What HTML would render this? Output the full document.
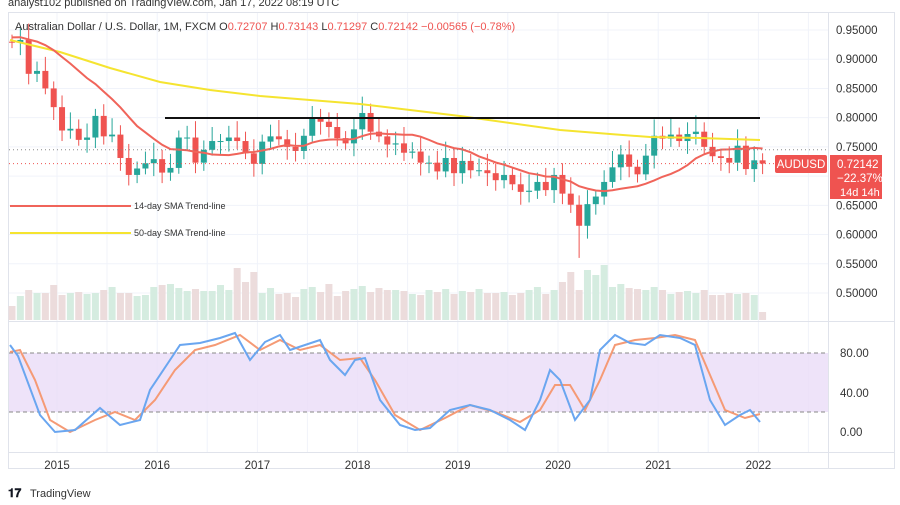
<!DOCTYPE html>
<html><head><meta charset="utf-8"><style>
body{margin:0;width:900px;height:500px;background:#fff;overflow:hidden;font-family:"Liberation Sans",sans-serif}
</style></head><body>
<svg id="s" width="900" height="500" xmlns="http://www.w3.org/2000/svg" font-family="Liberation Sans, sans-serif"></svg>
<script>
const s=document.getElementById('s');let h='';
const Y=p=>30+(0.95-p)*584.4;
h+='<text x="8" y="6" font-size="11" fill="#333">analyst102 published on TradingView.com, Jan 17, 2022 08:19 UTC</text>';
h+='<rect x="8.5" y="12.5" width="886" height="456" fill="#fff" stroke="#e0e3eb"/>';
for(let i=0;i<8;i++){let x=57+i*100.2;h+=`<line x1="${x}" y1="13" x2="${x}" y2="452" stroke="#f0f3fa"/>`;h+=`<line x1="${x+50}" y1="13" x2="${x+50}" y2="452" stroke="#f0f3fa"/>`;}
for(let p=0.5;p<=0.951;p+=0.05){h+=`<line x1="9" y1="${Y(p)}" x2="828" y2="${Y(p)}" stroke="#f0f3fa"/>`;h+=`<text x="836" y="${Y(p)+4}" font-size="11.5" fill="#333">${p.toFixed(5)}</text>`;}
h+='<line x1="828.5" y1="13" x2="828.5" y2="468" stroke="#e0e3eb"/><line x1="9" y1="321.5" x2="894" y2="321.5" stroke="#e0e3eb"/><line x1="9" y1="452.5" x2="894" y2="452.5" stroke="#e0e3eb"/>';
const c=[.929,.933,.875,.880,.850,.818,.778,.781,.762,.766,.803,.768,.771,.731,.702,.713,.722,.729,.706,.714,.766,.766,.723,.745,.760,.760,.766,.760,.739,.721,.759,.768,.763,.750,.743,.769,.800,.793,.784,.765,.756,.780,.808,.776,.768,.754,.756,.740,.742,.723,.723,.708,.731,.705,.726,.710,.710,.705,.693,.702,.686,.673,.675,.690,.676,.702,.670,.651,.615,.652,.665,.690,.715,.737,.716,.703,.735,.769,.764,.771,.760,.772,.776,.750,.734,.731,.723,.752,.712,.727,.72142];
const X=i=>12+i*8.34;
const vol=[14,24,30,27,27,35,25,27,28,26,27,30,33,27,27,24,25,33,35,36,32,29,31,29,29,35,30,52,38,48,27,32,26,27,23,31,33,28,36,24,29,31,34,28,32,30,30,29,26,25,30,28,31,26,29,28,31,27,27,28,25,27,30,33,26,30,38,48,30,50,45,55,33,36,32,31,30,33,30,26,28,29,27,30,25,25,27,26,27,25,8];
let prev=.93;
c.forEach((cl,i)=>{const o=prev,up=cl>=o,col=up?'#26a69a':'#ef5350';const hi=Math.max(o,cl)+0.012+((i*7)%5)*0.004,lo=Math.min(o,cl)-0.01-((i*3)%4)*0.004;
const x=X(i);let hi2=hi,lo2=lo;if(i==68)lo2=.56;if(i==79)hi2=.80;if(i==37)hi2=.815;
h+=`<rect x="${x-3.5}" y="${320-vol[i]}" width="7" height="${vol[i]}" fill="${up?'#d5ece0':'#ecdcdc'}"/>`;
h+=`<line x1="${x}" y1="${Y(hi2)}" x2="${x}" y2="${Y(lo2)}" stroke="${col}"/>`;
const t=Y(Math.max(o,cl)),b=Y(Math.min(o,cl));h+=`<rect x="${x-3}" y="${t}" width="6" height="${Math.max(1,b-t)}" fill="${col}"/>`;prev=cl;});
const pad=[.93,.93,.93,.935,.94,.94,.94,.935,.94,.945,.95,.95,.93];const all=pad.concat(c);let pts=[];
c.forEach((_,i)=>{let j=i+pad.length,sm=0;for(let k=j-13;k<=j;k++)sm+=all[k];pts.push(X(i)+','+Y(sm/14));});
h+='<polyline fill="none" stroke="#f5e430" stroke-width="2" points="10,40 60,52 110,68 160,82 210,90 260,96 310,100 360,104 410,110 460,116 510,123 560,130 610,134 650,137 700,138 760,140"/>';
h+=`<polyline fill="none" stroke="#f0645a" stroke-width="2" points="${pts.join(' ')}"/>`;
h+='<line x1="165" y1="118" x2="760" y2="118" stroke="#111" stroke-width="2"/>';
h+=`<line x1="9" y1="${Y(.72142)}" x2="828" y2="${Y(.72142)}" stroke="#ef5350" stroke-dasharray="1,3"/><line x1="9" y1="${Y(.745)}" x2="828" y2="${Y(.745)}" stroke="#888" stroke-dasharray="1,3"/>`;
h+='<rect x="775" y="155" width="52" height="18" rx="2" fill="#ef5350"/><text x="801" y="168" font-size="11.5" fill="#fff" text-anchor="middle">AUDUSD</text>';
h+='<rect x="830" y="155" width="52" height="44" fill="#ef5350"/><text x="837" y="168" font-size="11.5" fill="#fff">0.72142</text><text x="837" y="182" font-size="11.5" fill="#fff">−22.37%</text><text x="840" y="196" font-size="11" fill="#fff">14d 14h</text>';
h+='<line x1="10" y1="206" x2="131" y2="206" stroke="#f0645a" stroke-width="2"/><text x="134" y="209" font-size="9" fill="#333">14-day SMA Trend-line</text>';
h+='<line x1="10" y1="233" x2="131" y2="233" stroke="#f5e430" stroke-width="2"/><text x="134" y="236" font-size="9" fill="#333">50-day SMA Trend-line</text>';
h+='<text x="15" y="30" font-size="11" fill="#333">Australian Dollar / U.S. Dollar, 1M, FXCM  O<tspan fill="#ef5350">0.72707</tspan>  H<tspan fill="#ef5350">0.73143</tspan>  L<tspan fill="#ef5350">0.71297</tspan>  C<tspan fill="#ef5350">0.72142  −0.00565 (−0.78%)</tspan></text>';
h+='<rect x="9" y="353" width="819" height="59" fill="#eadcf8" opacity=".8"/><line x1="9" y1="353" x2="828" y2="353" stroke="#888" stroke-dasharray="4,3"/><line x1="9" y1="412" x2="828" y2="412" stroke="#888" stroke-dasharray="4,3"/>';
[[80,353],[40,393],[0,432]].forEach(([v,y])=>h+=`<text x="840" y="${y+4}" font-size="11.5" fill="#333">${v.toFixed(2)}</text>`);
h+='<polyline fill="none" stroke="#f59a75" stroke-width="2" points="10,352 20,350 35,380 50,420 70,432 95,420 115,412 135,420 155,400 175,370 195,350 215,345 240,335 260,350 280,340 300,350 320,345 340,360 360,358 375,380 395,415 420,430 445,418 470,405 495,412 520,422 540,410 555,385 570,385 585,410 600,380 615,345 635,340 655,338 675,335 695,340 710,375 725,410 745,418 760,414"/>';
h+='<polyline fill="none" stroke="#6aa6f0" stroke-width="2" points="10,345 18,356 40,415 55,432 75,430 100,408 120,425 140,420 150,390 170,360 180,345 200,343 220,338 235,333 250,360 265,342 280,335 290,350 305,345 320,340 330,360 345,375 355,360 365,358 380,400 400,425 415,430 430,428 450,410 470,405 490,410 510,420 525,430 540,400 550,370 560,380 575,420 590,400 600,350 615,335 630,343 645,345 660,335 680,338 695,345 710,400 725,425 740,415 750,410 760,422"/>';
['2015','2016','2017','2018','2019','2020','2021','2022'].forEach((y,i)=>h+=`<text x="${57+i*100.2}" y="469" font-size="11.5" fill="#333" text-anchor="middle">${y}</text>`);
h+='<text x="8" y="497" font-size="12" font-weight="bold" fill="#131722">𝟏𝟕</text><text x="30" y="497" font-size="11" fill="#333">TradingView</text>';
s.innerHTML=h;
</script>
</body></html>
